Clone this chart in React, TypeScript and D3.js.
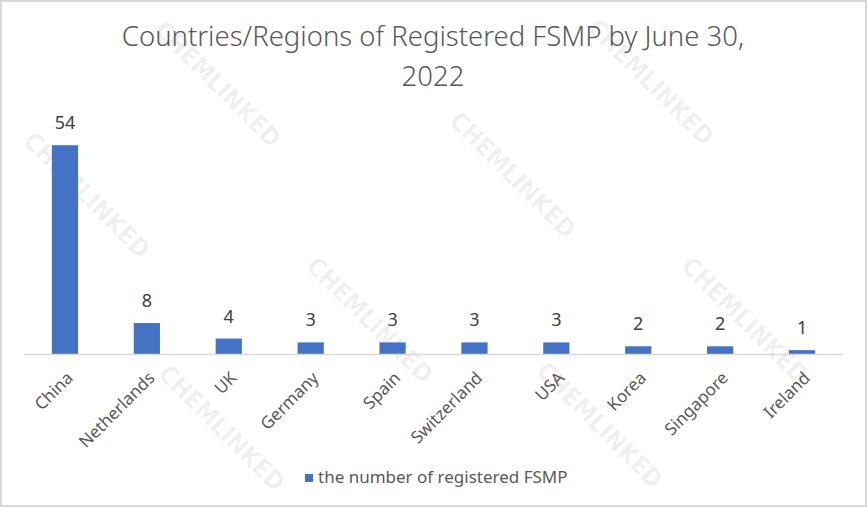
import { scaleBand, scaleLinear } from "d3"

const categories = ["China", "Netherlands", "UK", "Germany", "Spain", "Switzerland", "USA", "Korea", "Singapore", "Ireland"]
const values = [54, 8, 4, 3, 3, 3, 3, 2, 2, 1]
const titleLines = ["Countries/Regions of Registered FSMP by June 30,", "2022"]
const seriesName = "the number of registered FSMP"
// watermark centres
const watermarkX = [218, 87, 651, 513, 370, 222, 745, 600]
const watermarkY = [84, 195, 82, 175, 320, 428, 320, 425]

const W = 867
const H = 507
const FONT = "'Noto Sans', 'DejaVu Sans', sans-serif"

export default function App() {
  const x = scaleBand<string>().domain(categories).range([24, 843])
  const y = scaleLinear().domain([0, 60]).range([354, 122])
  const barW = x.bandwidth() * 0.32

  return (
    <svg width={W} height={H} style={{ position: "absolute", left: 0, top: 0, display: "block", background: "#fff" }}>
      {/* watermark */}
      <g fill="#000" fillOpacity={0.06} fontFamily="'DejaVu Sans Condensed', 'DejaVu Sans', sans-serif" fontWeight="bold" fontSize={25}>
        {watermarkX.map((wx, i) => (
          <text key={i} transform={`translate(${wx},${watermarkY[i]}) rotate(45)`} textAnchor="middle" dy="0.35em">
            CHEMLINKED
          </text>
        ))}
      </g>

      <rect x={1} y={1} width={W - 2} height={H - 2} fill="none" stroke="#d9d9d9" strokeWidth={2} />

      {/* title */}
      <g fontFamily={FONT} fontWeight={300} fontSize={27.5} fill="#595959" textAnchor="middle">
        {titleLines.map((t, i) => (
          <text key={i} x={433} y={46 + i * 40}>
            {t}
          </text>
        ))}
      </g>

      {/* bars */}
      {categories.map((c, i) => (
        <rect
          key={c}
          x={x(c)! + x.bandwidth() / 2 - barW / 2}
          y={y(values[i])}
          width={barW}
          height={y(0) - y(values[i])}
          fill="#4472c4"
        />
      ))}

      {/* value labels */}
      <g fontFamily={FONT} fontSize={18} fill="#404040" textAnchor="middle">
        {categories.map((c, i) => (
          <text key={c} x={x(c)! + x.bandwidth() / 2} y={y(values[i]) - 16}>
            {values[i]}
          </text>
        ))}
      </g>

      {/* axis */}
      <line x1={24} x2={843} y1={y(0) + 0.5} y2={y(0) + 0.5} stroke="#d9d9d9" strokeWidth={1.5} />
      <g fontFamily={FONT} fontSize={17} fill="#595959" textAnchor="end">
        {categories.map((c) => (
          <text key={c} transform={`translate(${x(c)! + x.bandwidth() / 2 + 9},${379}) rotate(-45)`}>
            {c}
          </text>
        ))}
      </g>

      {/* legend */}
      <rect x={305} y={474} width={8} height={8} fill="#4472c4" />
      <text x={318} y={483} fontFamily={FONT} fontSize={17} fill="#595959">
        {seriesName}
      </text>
    </svg>
  )
}
